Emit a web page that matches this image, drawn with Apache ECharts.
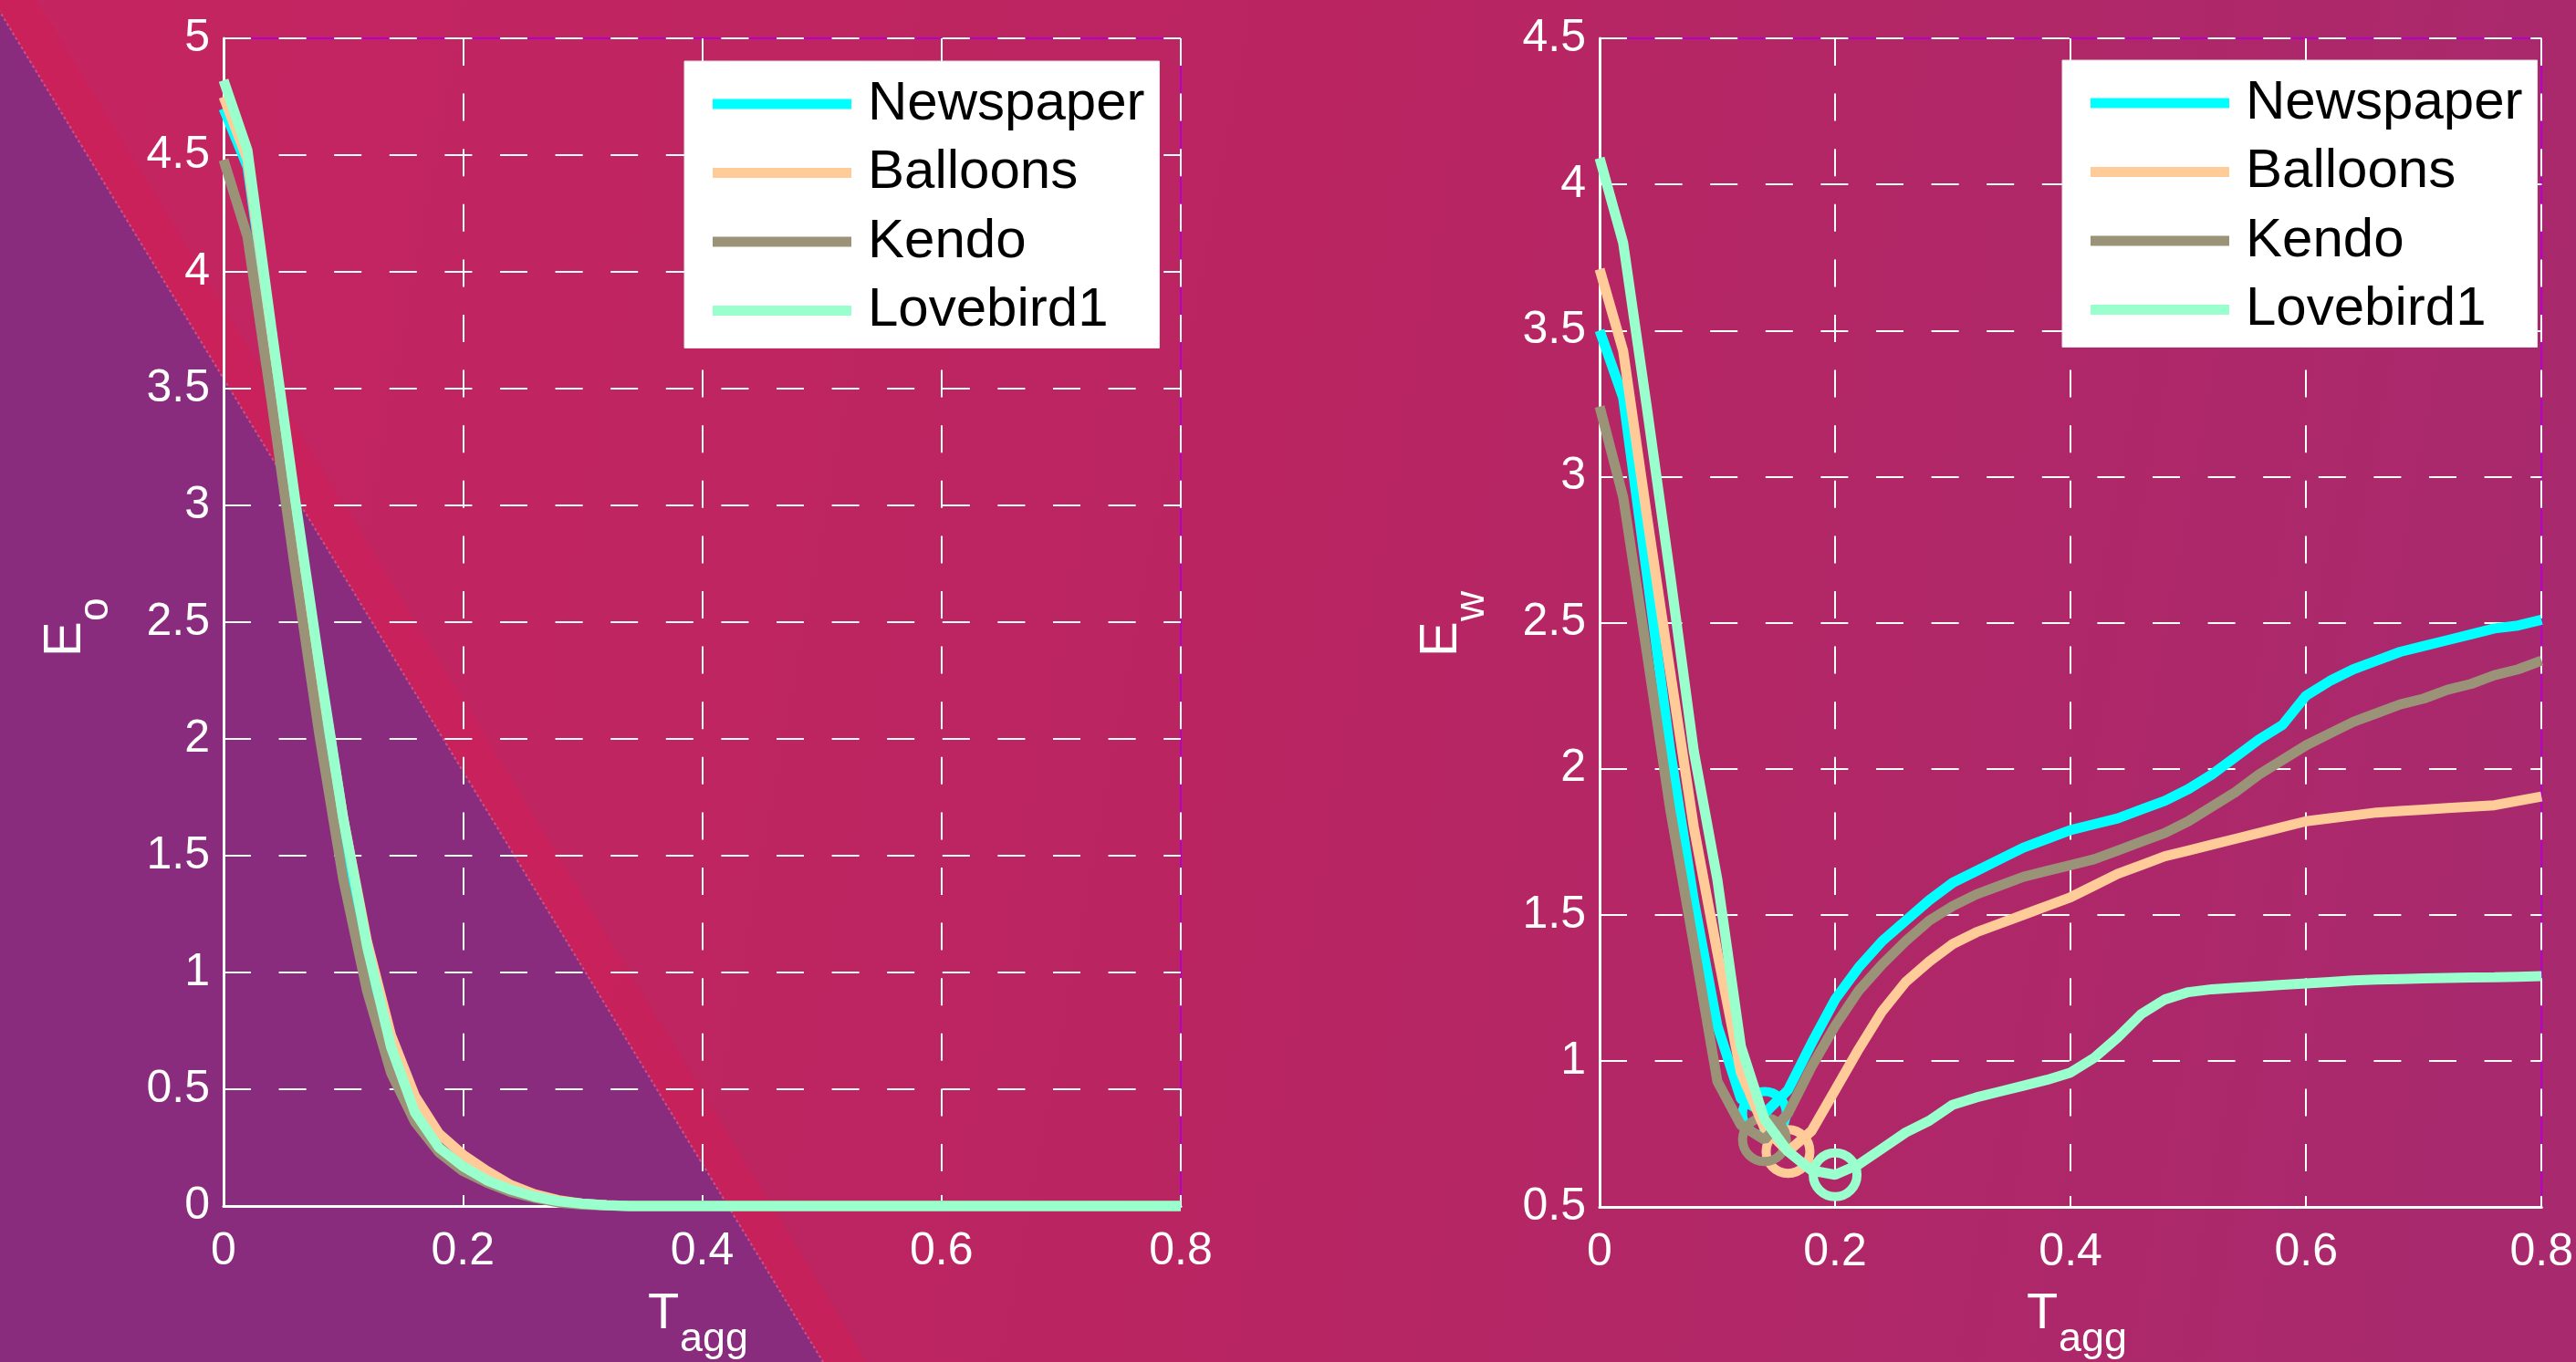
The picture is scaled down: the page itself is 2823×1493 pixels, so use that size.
<!DOCTYPE html>
<html><head><meta charset="utf-8">
<script src="https://cdn.jsdelivr.net/npm/echarts@6/dist/echarts.min.js"></script>
<style>html,body{margin:0;padding:0;background:#BE2560;overflow:hidden}#c{width:2823px;height:1493px}</style>
</head><body><div id="c"></div>
<script>
// ---- data ----
const seriesNames = ['Newspaper', 'Balloons', 'Kendo', 'Lovebird1'];
const seriesColors = ['#00FFFF', '#FFCC99', '#9A9378', '#99FFCC'];
const tagg = [0, 0.02, 0.04, 0.06, 0.08, 0.10, 0.12, 0.14, 0.16, 0.18, 0.20, 0.22, 0.24, 0.26, 0.28, 0.30, 0.32, 0.34, 0.36, 0.38, 0.40,
  0.42, 0.44, 0.46, 0.48, 0.50, 0.52, 0.54, 0.56, 0.58, 0.60, 0.62, 0.64, 0.66, 0.68, 0.70, 0.72, 0.74, 0.76, 0.78, 0.80];
// left panel: E_o
const eoNewspaper = [4.70, 4.45, 3.72, 2.98, 2.28, 1.62, 1.08, 0.66, 0.38, 0.24, 0.16, 0.11, 0.07, 0.04, 0.02, 0.01, 0.003, 0, 0, 0, 0,
  0, 0, 0, 0, 0, 0, 0, 0, 0, 0, 0, 0, 0, 0, 0, 0, 0, 0, 0, 0];
const eoBalloons = [4.75, 4.48, 3.74, 3.00, 2.30, 1.66, 1.13, 0.73, 0.47, 0.31, 0.22, 0.15, 0.09, 0.05, 0.025, 0.01, 0.004, 0, 0, 0, 0,
  0, 0, 0, 0, 0, 0, 0, 0, 0, 0, 0, 0, 0, 0, 0, 0, 0, 0, 0, 0];
const eoKendo = [4.48, 4.15, 3.45, 2.72, 2.02, 1.40, 0.92, 0.57, 0.36, 0.23, 0.15, 0.10, 0.06, 0.035, 0.015, 0.006, 0.002, 0, 0, 0, 0,
  0, 0, 0, 0, 0, 0, 0, 0, 0, 0, 0, 0, 0, 0, 0, 0, 0, 0, 0, 0];
const eoLovebird1 = [4.82, 4.52, 3.76, 3.02, 2.32, 1.66, 1.11, 0.68, 0.40, 0.25, 0.17, 0.11, 0.07, 0.04, 0.02, 0.01, 0.003, 0, 0, 0, 0,
  0, 0, 0, 0, 0, 0, 0, 0, 0, 0, 0, 0, 0, 0, 0, 0, 0, 0, 0, 0];
// right panel: E_w
const ewNewspaper = [3.50, 3.27, 2.67, 2.06, 1.55, 1.12, 0.87, 0.82, 0.90, 1.06, 1.21, 1.32, 1.41, 1.48, 1.55, 1.61, 1.65, 1.69, 1.73, 1.76, 1.79,
  1.81, 1.83, 1.86, 1.89, 1.93, 1.98, 2.04, 2.10, 2.15, 2.25, 2.30, 2.34, 2.37, 2.40, 2.42, 2.44, 2.46, 2.48, 2.49, 2.51];
const ewBalloons = [3.71, 3.43, 2.87, 2.33, 1.80, 1.37, 0.96, 0.77, 0.69, 0.76, 0.90, 1.04, 1.17, 1.27, 1.34, 1.40, 1.44, 1.47, 1.50, 1.53, 1.56,
  1.60, 1.64, 1.67, 1.70, 1.72, 1.74, 1.76, 1.78, 1.80, 1.82, 1.83, 1.84, 1.85, 1.855, 1.86, 1.865, 1.87, 1.875, 1.89, 1.905];
const ewKendo = [3.24, 2.93, 2.40, 1.86, 1.40, 0.93, 0.78, 0.73, 0.82, 0.98, 1.12, 1.24, 1.33, 1.41, 1.48, 1.53, 1.57, 1.60, 1.63, 1.65, 1.67,
  1.69, 1.72, 1.75, 1.78, 1.82, 1.87, 1.92, 1.98, 2.03, 2.08, 2.12, 2.16, 2.19, 2.22, 2.24, 2.27, 2.29, 2.32, 2.34, 2.37];
const ewLovebird1 = [4.09, 3.80, 3.24, 2.66, 2.06, 1.62, 1.05, 0.80, 0.69, 0.625, 0.61, 0.645, 0.70, 0.755, 0.795, 0.85, 0.875, 0.895, 0.915, 0.935, 0.96,
  1.01, 1.08, 1.16, 1.21, 1.235, 1.245, 1.25, 1.255, 1.26, 1.265, 1.27, 1.275, 1.278, 1.28, 1.282, 1.284, 1.285, 1.286, 1.288, 1.29];
const xTicks = { min: 0, max: 0.8, interval: 0.2 };
const eoTicks = { min: 0, max: 5, interval: 0.5 };
const ewTicks = { min: 0.5, max: 4.5, interval: 0.5 };

// ---- chart ----
const FONT = 'Liberation Sans, Arial, sans-serif';
const chart = echarts.init(document.getElementById('c'), null, { renderer: 'canvas' });
const eoData = [eoNewspaper, eoBalloons, eoKendo, eoLovebird1];
const ewData = [ewNewspaper, ewBalloons, ewKendo, ewLovebird1];
const pairs = arr => tagg.map((t, i) => [t, arr[i]]);

function xAx(grid, pos, ticks) {
  const main = pos === 'bottom';
  return {
    type: 'value', gridIndex: grid, position: pos, min: ticks.min, max: ticks.max, interval: ticks.interval,
    axisLine: { show: main, onZero: false, lineStyle: { color: '#fff', width: 3 } },
    axisTick: { show: true, inside: true, length: 12, lineStyle: { color: '#fff', width: 2 } },
    axisLabel: { show: main, color: '#fff', fontSize: 50, fontFamily: FONT, margin: 25 },
    splitLine: { show: main, lineStyle: { color: '#fff', width: 2, type: [30, 30.6] } }
  };
}
function yAx(grid, pos, ticks) {
  const main = pos === 'left';
  return {
    type: 'value', gridIndex: grid, position: pos, min: ticks.min, max: ticks.max, interval: ticks.interval,
    axisLine: { show: main, onZero: false, lineStyle: { color: '#fff', width: 3 } },
    axisTick: { show: true, inside: true, length: 12, lineStyle: { color: '#fff', width: 2 } },
    axisLabel: { show: main, color: '#fff', fontSize: 50, fontFamily: FONT, margin: 15 },
    splitLine: { show: main, lineStyle: { color: '#fff', width: 2, type: [30, 30.6] } }
  };
}

const series = [];
eoData.forEach((arr, k) => series.push({
  name: seriesNames[k], type: 'line', xAxisIndex: 0, yAxisIndex: 0, data: pairs(arr),
  color: seriesColors[k], showSymbol: false, symbol: 'none', clip: false,
  lineStyle: { width: 11, color: seriesColors[k] }, animation: false
}));
ewData.forEach((arr, k) => {
  series.push({
    name: seriesNames[k], type: 'line', xAxisIndex: 2, yAxisIndex: 2, data: pairs(arr),
    color: seriesColors[k], showSymbol: false, symbol: 'none', clip: false,
    lineStyle: { width: 11, color: seriesColors[k] }, animation: false
  });
  let mi = 0; arr.forEach((v, i) => { if (v < arr[mi]) mi = i; });
  series.push({
    name: seriesNames[k] + ' min', type: 'scatter', xAxisIndex: 2, yAxisIndex: 2,
    data: [[tagg[mi], arr[mi]]], symbol: 'circle', symbolSize: 48, clip: false, silent: true,
    itemStyle: { color: 'rgba(0,0,0,0)', borderColor: seriesColors[k], borderWidth: 10, opacity: 1 }, animation: false
  });
});

function legendAt(left, top) {
  return {
    data: seriesNames, orient: 'vertical', left: left, top: top, padding: [17, 16, 11, 31],
    itemGap: 15.5, itemWidth: 152, itemHeight: 11, icon: 'rect', selectedMode: false,
    backgroundColor: '#ffffff', borderColor: '#e6e6e6', borderWidth: 1, borderRadius: 0,
    textStyle: { fontSize: 60, fontFamily: FONT, color: '#000', lineHeight: 60, padding: [0, 0, 0, 13] }
  };
}

function label(x, y, txt, size, rot) {
  return { type: 'text', x: x, y: y, rotation: rot ? Math.PI / 2 : 0, z: 50, silent: true,
    style: { text: txt, fill: '#fff', fontSize: size, fontFamily: FONT, align: 'left', verticalAlign: 'middle' } };
}

const option = {
  animation: false,
  backgroundColor: 'transparent',
  grid: [
    { left: 245, top: 42, width: 1049, height: 1280, show: true, borderColor: '#B400C8', borderWidth: 2, backgroundColor: 'transparent' },
    { left: 1753, top: 42, width: 1048, height: 1281, show: true, borderColor: '#B400C8', borderWidth: 2, backgroundColor: 'transparent' }
  ],
  xAxis: [xAx(0, 'bottom', xTicks), xAx(0, 'top', xTicks), xAx(1, 'bottom', xTicks), xAx(1, 'top', xTicks)],
  yAxis: [yAx(0, 'left', eoTicks), yAx(0, 'right', eoTicks), yAx(1, 'left', ewTicks), yAx(1, 'right', ewTicks)],
  legend: [legendAt(750, 67), legendAt(2260, 66)],
  series: series,
  graphic: [
    { type: 'rect', z: -100, silent: true, shape: { x: 0, y: 0, width: 2823, height: 1493 },
      style: { fill: { type: 'linear', x: 0, y: 0, x2: 1, y2: 0.35, colorStops: [
        { offset: 0, color: '#C52561' }, { offset: 0.5, color: '#BA2561' }, { offset: 1, color: '#A8296D' }] } } },
    { type: 'polygon', z: -99, silent: true, shape: { points: [[-8, 0], [40, 0], [950, 1493], [902, 1493]] },
      style: { fill: 'rgba(210,28,84,0.45)' } },
    { type: 'polygon', z: -98, silent: true, shape: { points: [[-8, 0], [902, 1493], [0, 1493]] },
      style: { fill: '#8A2C7D' } },
    { type: 'line', z: -97, silent: true, shape: { x1: -8, y1: 0, x2: 902, y2: 1493 },
      style: { stroke: 'rgba(255,170,200,0.35)', lineWidth: 2, lineDash: [3, 3] } },
    label(710, 1441, 'T', 56, false), label(745, 1469, 'agg', 45, false),
    label(2221, 1441, 'T', 56, false), label(2256, 1469, 'agg', 45, false),
    label(72, 720, 'E', 58, true), label(105, 681, 'o', 46, true),
    label(1580, 720, 'E', 58, true), label(1613, 681, 'w', 46, true)
  ]
};
chart.setOption(option);
</script>
</body></html>
